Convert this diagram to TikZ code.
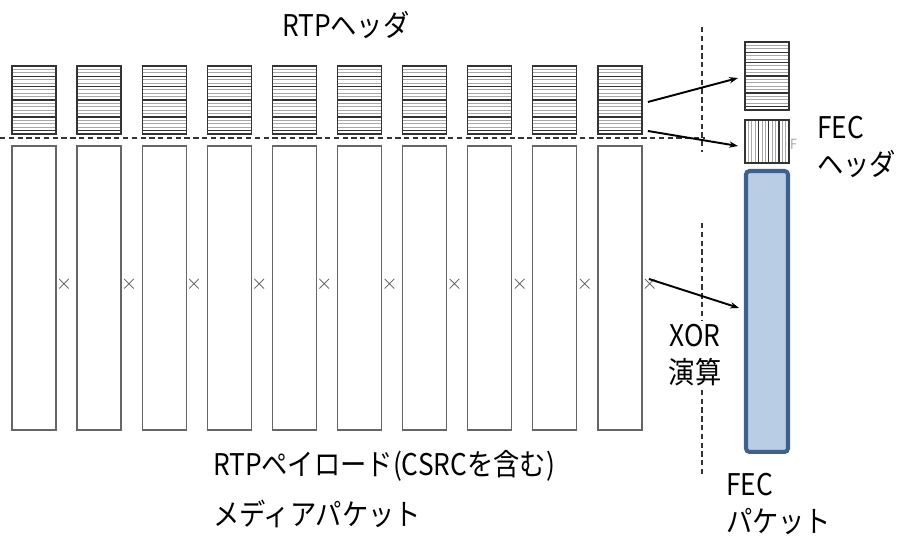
\documentclass[tikz,border=0pt]{standalone}
\usepackage{fontspec}
\newfontfamily\jpfont[FakeStretch=0.88]{Noto Sans CJK JP}
\usetikzlibrary{arrows.meta,calc}
\definecolor{fecfill}{HTML}{B9CDE5}
\definecolor{fecedge}{HTML}{3F5F8C}
\definecolor{hatchgray}{HTML}{A8A8A8}
\definecolor{dkgray}{HTML}{333333}
\definecolor{boxgray}{HTML}{666666}

\begin{document}
\begin{tikzpicture}[>=Stealth,x=0.02cm,y=-0.02cm,
    font=\jpfont\fontsize{17}{21}\selectfont,
    every node/.style={inner sep=0pt,outer sep=0pt},
    hhatch/.style={path picture={
        \foreach \k in {1,...,19}
          \draw[hatchgray,line width=0.5pt]
            ($(path picture bounding box.north west)+(0,\k*3.4)$) --
            ($(path picture bounding box.north east)+(0,\k*3.4)$);
        \foreach \k in {3,6,10,15,19}
          \draw[dkgray,line width=0.6pt]
            ($(path picture bounding box.north west)+(0,\k*3.4)$) --
            ($(path picture bounding box.north east)+(0,\k*3.4)$);}},
    vhatch/.style={path picture={
        \foreach \k in {1,...,12}
          \draw[hatchgray,line width=0.5pt]
            ($(path picture bounding box.north west)+(\k*3.4,0)$) --
            ($(path picture bounding box.south west)+(\k*3.4,0)$);
        \foreach \k in {4,7,10}
          \draw[dkgray,line width=0.6pt]
            ($(path picture bounding box.north west)+(\k*3.4,0)$) --
            ($(path picture bounding box.south west)+(\k*3.4,0)$);}},
    hdrbox/.style={draw=dkgray,line width=0.7pt,hhatch,anchor=north west,
        minimum width=0.88cm,minimum height=1.36cm},
    paybox/.style={draw=boxgray,line width=0.7pt,fill=white,anchor=north west,
        minimum width=0.88cm,minimum height=5.68cm},
    guide/.style={black!80,line width=0.6pt,dash pattern=on 3pt off 2pt},
    fecarrow/.style={-{Stealth[length=5pt,width=3.6pt]},line width=1.1pt},
    lbl/.style={anchor=base west}]

  \useasboundingbox (0,0) rectangle (901,536);

  % --- media packets: RTP header + payload ---
  \foreach \i in {1,...,10}{
    \node[hdrbox] (hdr\i) at ({12+65.1*(\i-1)},66) {};
    \node[paybox] (pay\i) at ({12+65.1*(\i-1)},146) {};
    \node[black!70,font=\fontsize{13}{13}\selectfont] (xmark\i) at ($(pay\i.east)+(8,-4)$) {$\times$};
  }

  % --- header / payload split ---
  \coordinate (splitL) at (0,138);
  \coordinate (splitR) at (705,138);
  \draw[guide] (splitL) -- (splitR);

  % --- FEC packet ---
  \node[hdrbox] (fecrtp) at (745,42) {};
  \node[draw=dkgray,line width=0.7pt,vhatch,anchor=north west,
        minimum width=0.88cm,minimum height=0.86cm] (fechd) at (745,120) {};
  \node[gray!70,font=\jpfont\fontsize{8}{9}\selectfont,anchor=west] (fecf) at (790,144) {F};
  \node[draw=fecedge,line width=2.3pt,fill=fecfill,rounded corners=2pt,anchor=north west,
        minimum width=0.84cm,minimum height=5.62cm] (fecpkt) at (746,171) {};

  % --- XOR guides ---
  \coordinate (guideTop) at (702,27);
  \coordinate (guideMid) at (702,152);
  \coordinate (guideLow) at (702,223);
  \coordinate (guideBot) at (702,477);
  \draw[guide] (guideTop) -- (guideMid);
  \draw[guide] (guideLow) -- (guideBot);

  % --- arrows ---
  \draw[fecarrow] ($(hdr10.east)+(6,2)$) -- ($(fecrtp.west)+(-7,2)$);
  \draw[fecarrow] ($(hdr10.south east)+(6,-3)$) -- ($(fechd.west)+(-7,4.5)$);
  \draw[fecarrow] ($(pay10.east)+(7,-9)$) -- ($(fecpkt.west)+(-7,-3.5)$);

  % --- labels ---
  \node[lbl] (rtphdrlbl) at (282,37) {RTPヘッダ};
  \node[anchor=west,align=left] (fechdlbl) at (817,147) {FEC\\ヘッダ};
  \node[fill=white,align=center,inner sep=2pt] (xorlbl) at (695,355) {XOR\\演算};
  \node[anchor=west,align=left] (fecpktlbl) at (726,504) {FEC\\パケット};
  \node[lbl] (paylbl) at (213,475) {RTPペイロード(CSRCを含む)};
  \node[lbl] (medialbl) at (213,525) {メディアパケット};

\end{tikzpicture}
\end{document}
